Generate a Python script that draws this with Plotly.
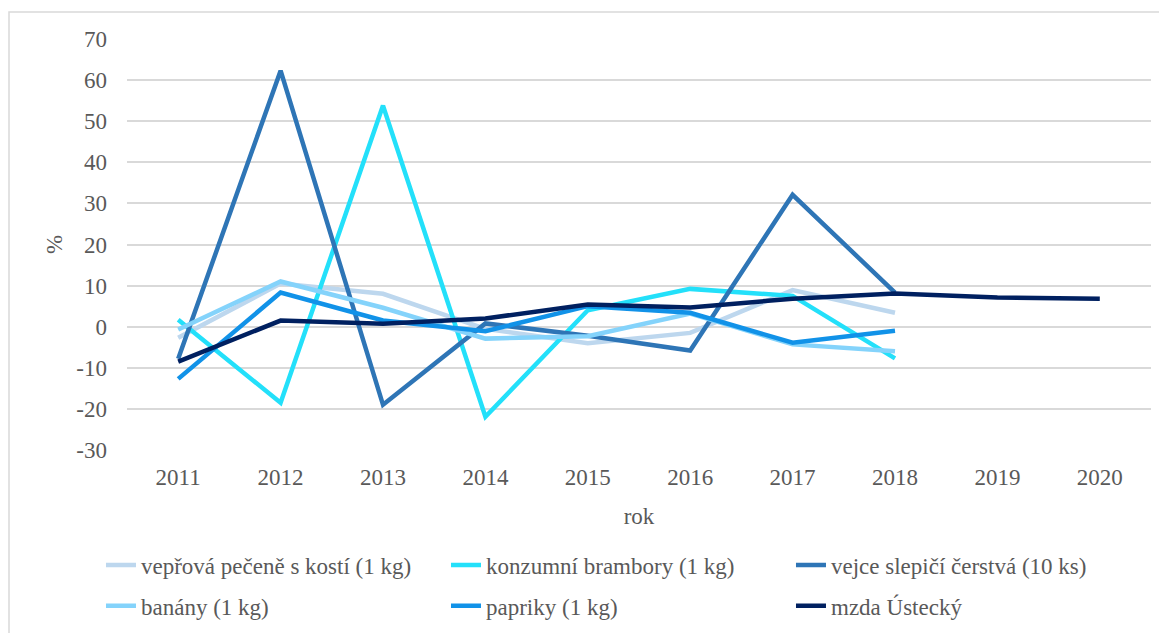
import plotly.graph_objects as go

roky = ["2011", "2012", "2013", "2014", "2015", "2016", "2017", "2018", "2019", "2020"]

veprova = [-2.7, 10.5, 8.0, -0.5, -4.0, -1.5, 8.9, 3.4]
brambory = [1.7, -18.5, 53.8, -21.9, 4.0, 9.2, 7.5, -7.7]
vejce = [-7.8, 62.3, -19.0, 0.8, -2.2, -5.8, 32.1, 8.3]
banany = [-0.7, 11.0, 4.6, -2.9, -2.3, 3.2, -4.3, -6.0]
papriky = [-12.7, 8.3, 1.5, -1.1, 5.0, 3.4, -3.9, -1.0]
mzda = [-8.5, 1.5, 0.7, 2.0, 5.4, 4.7, 6.8, 8.1, 7.1, 6.8]

y_ticks = [-30, -20, -10, 0, 10, 20, 30, 40, 50, 60, 70]

serie = [
    ("vepřová pečeně s kostí (1 kg)", veprova, "#BDD7EE", "legend"),
    ("konzumní brambory (1 kg)", brambory, "#23E0FA", "legend"),
    ("vejce slepičí čerstvá (10 ks)", vejce, "#2E75B6", "legend"),
    ("banány (1 kg)", banany, "#84D3FB", "legend2"),
    ("papriky (1 kg)", papriky, "#1192E8", "legend2"),
    ("mzda Ústecký", mzda, "#002060", "legend2"),
]

FONT = "Liberation Serif"
GREY = "#595959"
fnt = dict(family=FONT, size=23, color=GREY)

fig = go.Figure()
for name, vals, col, leg in serie:
    fig.add_trace(go.Scatter(
        x=roky[:len(vals)], y=vals, mode="lines", name=name,
        line=dict(color=col, width=4.5), legend=leg,
    ))

# page body has an 8px margin, so margins are shifted by -8
fig.update_layout(
    width=1167, height=633,
    margin=dict(l=119, r=24, t=31, b=191),
    plot_bgcolor="white", paper_bgcolor="white",
    font=fnt,
    legend=dict(orientation="h", x=-0.0254, xanchor="left", y=-0.2275, yanchor="top",
                entrywidth=300, font=fnt, bgcolor="rgba(0,0,0,0)"),
    legend2=dict(orientation="h", x=-0.0254, xanchor="left", y=-0.327, yanchor="top",
                 entrywidth=300, font=fnt, bgcolor="rgba(0,0,0,0)"),
    shapes=[dict(type="rect", xref="paper", yref="paper",
                 x0=(1 - 119) / 1024, x1=(1175 - 119) / 1024,
                 y0=(442 - 650) / 411, y1=(442 - 4) / 411,
                 line=dict(color="#D9D9D9", width=1.5), fillcolor="rgba(0,0,0,0)", layer="below")],
)

fig.update_xaxes(
    type="category", range=[-0.5, 9.5], automargin=False,
    showgrid=False, showline=False, zeroline=False,
    tickfont=fnt, ticklabelstandoff=11,
    title=dict(text="rok", font=fnt, standoff=18),
)
fig.update_yaxes(
    range=[-30, 70], automargin=False,
    tickvals=y_ticks, ticktext=[str(v) for v in y_ticks],
    showgrid=True, gridcolor="#D9D9D9", gridwidth=1.5,
    zeroline=False, showline=False,
    tickfont=fnt, ticklabelstandoff=19,
    title=dict(text="%", font=fnt, standoff=7),
)

fig.write_html("out.html")
